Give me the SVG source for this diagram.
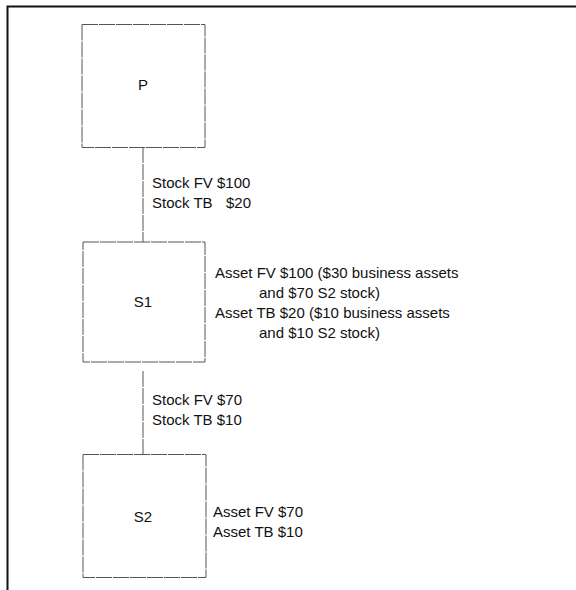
<svg xmlns="http://www.w3.org/2000/svg" width="576" height="590" viewBox="0 0 576 590">
  <style>
    .frame { fill: none; stroke: #111; stroke-width: 2; }
    .box { fill: #fff; stroke: #555; stroke-width: 1; stroke-dasharray: 16 1; }
    .conn { stroke: #555; stroke-width: 1; stroke-dasharray: 16 1; fill: none; }
    text { font-family: "Liberation Sans", Arial, sans-serif; font-size: 15px; fill: #111; }
    .lbl { text-anchor: middle; }
  </style>
  <rect width="576" height="590" fill="#fff"/>
  <path class="frame" d="M7.5,590 V6.5 H576"/>
  <g id="connectors">
    <line class="conn" x1="143" y1="147" x2="143" y2="242"/>
    <line class="conn" x1="143" y1="371" x2="143" y2="454"/>
    <text x="152" y="188">Stock FV $100</text>
    <text x="152" y="208">Stock TB<tspan x="226">$20</tspan></text>
    <text x="152" y="405">Stock FV $70</text>
    <text x="152" y="425">Stock TB $10</text>
  </g>
  <g id="P">
    <rect class="box" x="82" y="24.5" width="123" height="123"/>
    <text class="lbl" x="143" y="90">P</text>
  </g>
  <g id="S1">
    <rect class="box" x="83" y="242" width="122" height="120"/>
    <text class="lbl" x="143" y="307">S1</text>
    <text x="215" y="278">Asset FV $100 ($30 business assets</text>
    <text x="259" y="298">and $70 S2 stock)</text>
    <text x="215" y="318">Asset TB $20 ($10 business assets</text>
    <text x="259" y="338">and $10 S2 stock)</text>
  </g>
  <g id="S2">
    <rect class="box" x="83" y="454.5" width="123" height="123"/>
    <text class="lbl" x="143" y="522">S2</text>
    <text x="213" y="517">Asset FV $70</text>
    <text x="213" y="537">Asset TB $10</text>
  </g>
</svg>
